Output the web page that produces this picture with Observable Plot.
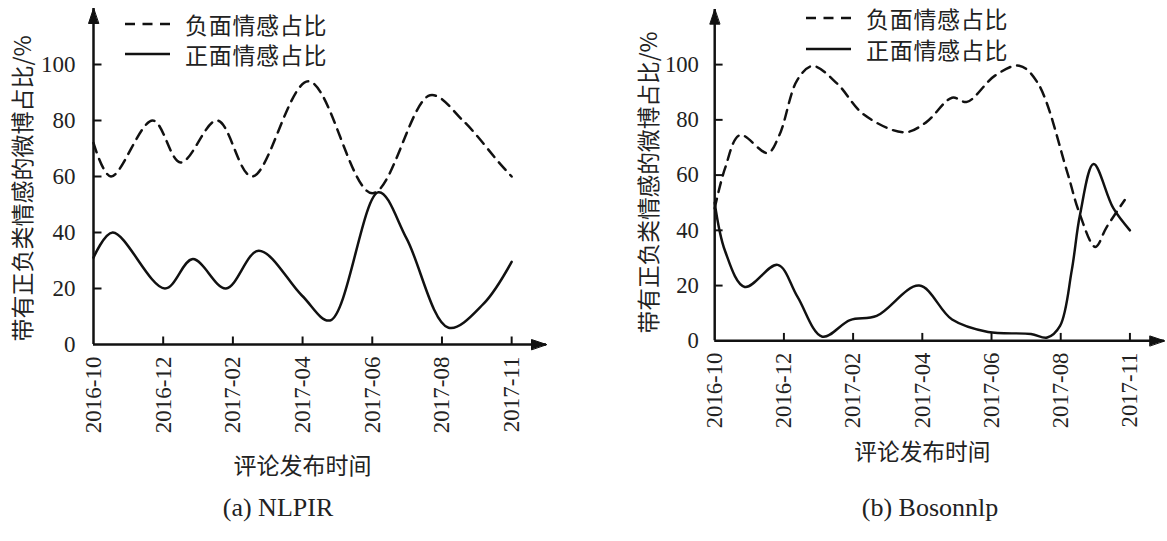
<!DOCTYPE html>
<html>
<head>
<meta charset="utf-8">
<script src="https://cdn.jsdelivr.net/npm/d3@7"></script>
<script src="https://cdn.jsdelivr.net/npm/@observablehq/plot@0.6"></script>
<style>
  html, body { margin: 0; padding: 0; background: #fff; overflow: hidden; width: 1167px; height: 541px; }
  #wrap { position: relative; width: 1167px; height: 541px; overflow: hidden; }
  .panel { position: absolute; top: 0; }
  .legend-row { position: absolute; display: flex; align-items: center; height: 28px; line-height: 28px; white-space: nowrap;
    font-family: "Noto Sans CJK SC"; font-size: 23px; letter-spacing: 0.7px; color: #222; }
  .legend-row svg { margin-right: 15px; }
  .caption { position: absolute; font-family: "Liberation Serif"; font-size: 26px; color: #222; line-height: 30px;
    transform: translate(-50%, -50%); white-space: nowrap; }
</style>
</head>
<body>
<div id="wrap"></div>
<script>
// ---- data ----
const xTickIdx = [0, 2, 4, 6, 8, 10, 12];
const xTickLabels = ["2016-10", "2016-12", "2017-02", "2017-04", "2017-06", "2017-08", "2017-11"];
const yTicks = [0, 20, 40, 60, 80, 100];
const seriesNames = ["负面情感占比", "正面情感占比"];
const xTitle = "评论发布时间";
const yTitle = "带有正负类情感的微博占比/%";
const captions = ["(a) NLPIR", "(b) Bosonnlp"];

// (a) NLPIR
const negNlpirX = [0, 0.5, 1.7, 2.5, 3.55, 4.55, 6.17, 8.0, 9.66, 10.6, 11.67, 12];
const negNlpirY = [72, 60, 80, 65, 80, 60, 94, 54, 89, 80, 64.5, 60];
const posNlpirX = [0, 0.55, 2.05, 2.85, 3.8, 4.74, 5.98, 6.79, 8.18, 8.99, 10.19, 11.19, 12];
const posNlpirY = [31, 40, 20, 30.5, 20, 33.5, 17.5, 8.6, 54.4, 37.7, 6, 14.5, 29.5];

// (b) Bosonnlp
const negBosonX = [0, 0.3, 0.73, 1.53, 1.87, 2.39, 2.83, 3.55, 4.3, 5.48, 6.1, 6.86, 7.29, 8.1, 8.8, 9.33, 10.19, 10.52, 11.0, 11.32, 11.85];
const negBosonY = [48, 62.5, 74.5, 68, 74.5, 94.5, 99.5, 93, 82, 75.5, 79, 88, 86.5, 96, 99.6, 93.5, 61, 47, 34, 41, 51];
const posBosonX = [0, 0.3, 0.87, 1.82, 2.39, 3.11, 3.91, 4.68, 5.91, 6.86, 7.9, 9.14, 9.61, 9.98, 10.32, 10.56, 10.95, 11.52, 12];
const posBosonY = [50, 32.5, 19.5, 27.5, 16, 1.5, 7.5, 9, 20, 7.7, 3.2, 2.5, 1.2, 5.4, 25.6, 45.8, 64, 48, 40];

// ---- drawing ----
const ink = "#111";
const tickShape = { draw(ctx, l) { ctx.moveTo(0, 0); ctx.lineTo(0, -l); } };
const headShape = { draw(ctx, l) { ctx.moveTo(0, -l); ctx.lineTo(-5, 0); ctx.lineTo(5, 0); ctx.closePath(); } };

function panel({negX, negY, posX, posY, width, marginLeft, marginRight, marginTop, tickPadY, yDx, yDy, xDy}) {
  const neg = negX.map((x, i) => ({x, y: negY[i]}));
  const pos = posX.map((x, i) => ({x, y: posY[i]}));
  const yTop = 120, xEnd = 13, H = 480, plotH = 336;
  const xMid = (xTickIdx[0] + xTickIdx[xTickIdx.length - 1]) / 2;
  return Plot.plot({
    width, height: H,
    marginLeft, marginRight, marginTop, marginBottom: H - marginTop - plotH,
    x: {domain: [0, xEnd]},
    y: {domain: [0, yTop]},
    style: {fontFamily: "Liberation Serif", fontSize: "23px", color: "#222", background: "transparent", overflow: "visible"},
    marks: [
      Plot.axisY({ticks: yTicks, tickSize: 0, tickPadding: tickPadY, label: null, fontSize: 23, tickFormat: d => String(d)}),
      Plot.axisX({ticks: xTickIdx, tickFormat: d => xTickLabels[xTickIdx.indexOf(d)], fontSize: 23, tickSize: 0, tickPadding: 12, tickRotate: -90, label: null}),
      Plot.ruleX([0], {y1: 0, y2: yTop, stroke: ink, strokeWidth: 2.5}),
      Plot.ruleY([0], {x1: 0, x2: xEnd, stroke: ink, strokeWidth: 2.5}),
      Plot.vector(xTickIdx.slice(1), {x: d => d, y: 0, length: 8, anchor: "start", shape: tickShape, stroke: ink, strokeWidth: 2, strokeLinecap: "butt"}),
      Plot.vector(yTicks.slice(1), {x: 0, y: d => d, length: 8, rotate: 90, anchor: "start", shape: tickShape, stroke: ink, strokeWidth: 2, strokeLinecap: "butt"}),
      Plot.vector([xEnd], {x: d => d, y: 0, rotate: 90, length: 15, anchor: "end", shape: headShape, fill: ink, stroke: ink, strokeWidth: 1}),
      Plot.vector([yTop], {x: 0, y: d => d, rotate: 0, length: 15, anchor: "end", shape: headShape, fill: ink, stroke: ink, strokeWidth: 1}),
      Plot.line(neg, {x: "x", y: "y", curve: "catmull-rom", stroke: ink, strokeWidth: 2.5, strokeDasharray: "10,7"}),
      Plot.line(pos, {x: "x", y: "y", curve: "catmull-rom", stroke: ink, strokeWidth: 2.5}),
      Plot.text([yTitle], {frameAnchor: "left", textAnchor: "middle", rotate: -90, dx: yDx, dy: yDy, fontFamily: "Noto Sans CJK SC", fontSize: 23, fill: "#222"}),
      Plot.text([xTitle], {x: xMid, y: 0, dy: xDy, fontFamily: "Noto Sans CJK SC", fontSize: 23, fill: "#222"})
    ]
  });
}

const wrap = document.getElementById("wrap");

function addPanel(left, chart) {
  const d = document.createElement("div");
  d.className = "panel";
  d.style.left = left + "px";
  d.appendChild(chart);
  wrap.appendChild(d);
}

addPanel(0, panel({negX: negNlpirX, negY: negNlpirY, posX: posNlpirX, posY: posNlpirY,
  width: 583, marginLeft: 93, marginRight: 37, marginTop: 8, tickPadY: 18, yDx: -70, yDy: 12, xDy: 122}));
addPanel(583, panel({negX: negBosonX, negY: negBosonY, posX: posBosonX, posY: posBosonY,
  width: 592, marginLeft: 133, marginRight: 3, marginTop: 9, tickPadY: 16, yDx: -66, yDy: 7.5, xDy: 113}));

// legends
function legendRow(left, cy, name, dashed) {
  const row = document.createElement("div");
  row.className = "legend-row";
  row.style.left = left + "px";
  row.style.top = (cy - 14) + "px";
  const ns = "http://www.w3.org/2000/svg";
  const s = document.createElementNS(ns, "svg");
  s.setAttribute("width", 45); s.setAttribute("height", 6);
  const l = document.createElementNS(ns, "line");
  l.setAttribute("x1", 0); l.setAttribute("x2", 45); l.setAttribute("y1", 3); l.setAttribute("y2", 3);
  l.setAttribute("stroke", ink); l.setAttribute("stroke-width", 2.5);
  if (dashed) l.setAttribute("stroke-dasharray", "10,7.5");
  s.appendChild(l);
  row.appendChild(s);
  const t = document.createElement("span");
  t.textContent = name;
  row.appendChild(t);
  wrap.appendChild(row);
}
legendRow(125, 24, seriesNames[0], true);
legendRow(125, 54, seriesNames[1], false);
legendRow(806, 18, seriesNames[0], true);
legendRow(806, 49, seriesNames[1], false);

// captions
function caption(cx, cy, text) {
  const c = document.createElement("div");
  c.className = "caption";
  c.style.left = cx + "px";
  c.style.top = cy + "px";
  c.textContent = text;
  wrap.appendChild(c);
}
caption(278, 508, captions[0]);
caption(930, 508, captions[1]);
</script>
</body>
</html>
